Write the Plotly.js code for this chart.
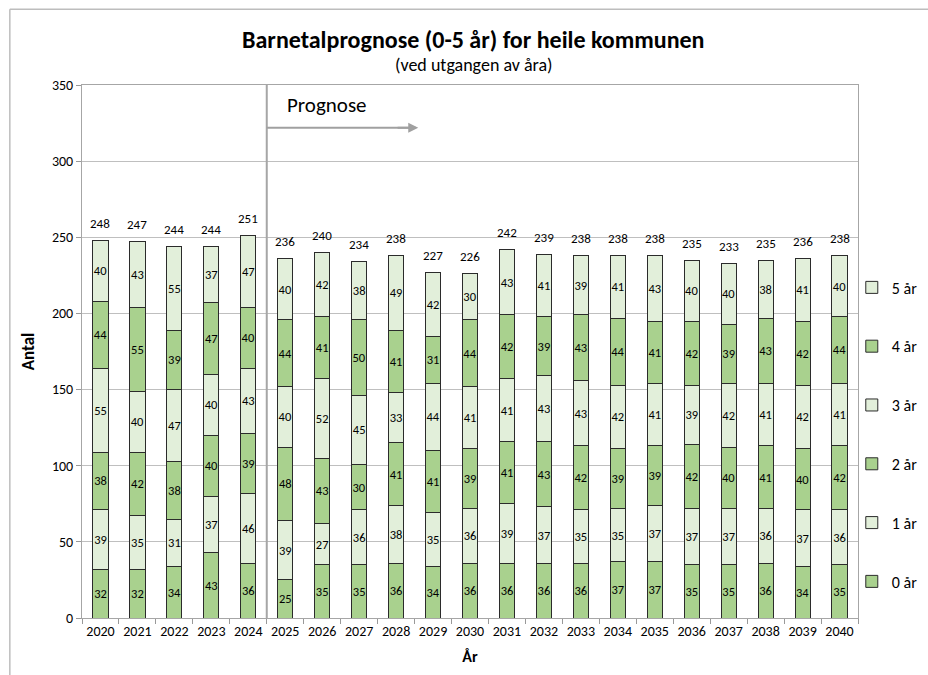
<!DOCTYPE html>
<html>
<head>
<meta charset="utf-8">
<script src="https://cdn.plot.ly/plotly-3.0.1.min.js"></script>
<style>
  html, body { margin: 0; padding: 0; background: #fff; }
  #graph { width: 928px; height: 675px; }
</style>
</head>
<body>
<div id="graph"></div>
<script>
// Data
const years = ['2020', '2021', '2022', '2023', '2024', '2025', '2026', '2027', '2028', '2029', '2030',
               '2031', '2032', '2033', '2034', '2035', '2036', '2037', '2038', '2039', '2040'];
const age0 = [32, 32, 34, 43, 36, 25, 35, 35, 36, 34, 36, 36, 36, 36, 37, 37, 35, 35, 36, 34, 35];
const age1 = [39, 35, 31, 37, 46, 39, 27, 36, 38, 35, 36, 39, 37, 35, 35, 37, 37, 37, 36, 37, 36];
const age2 = [38, 42, 38, 40, 39, 48, 43, 30, 41, 41, 39, 41, 43, 42, 39, 39, 42, 40, 41, 40, 42];
const age3 = [55, 40, 47, 40, 43, 40, 52, 45, 33, 44, 41, 41, 43, 43, 42, 41, 39, 42, 41, 42, 41];
const age4 = [44, 55, 39, 47, 40, 44, 41, 50, 41, 31, 44, 42, 39, 43, 44, 41, 42, 39, 43, 42, 44];
const age5 = [40, 43, 55, 37, 47, 40, 42, 38, 49, 42, 30, 43, 41, 39, 41, 43, 40, 40, 38, 41, 40];
const totals = [248, 247, 244, 244, 251, 236, 240, 234, 238, 227, 226, 242, 239, 238, 238, 238, 235, 233, 235, 236, 238];
const seriesNames = ['0 år', '1 år', '2 år', '3 år', '4 år', '5 år'];

const font = 'Carlito, Lato, "Liberation Sans", sans-serif';
const dark = '#a9d18e';
const light = '#e2efda';
const colors = [dark, light, dark, light, dark, light];

const series = [age0, age1, age2, age3, age4, age5];
const traces = series.map((vals, i) => ({
    type: 'bar',
    name: seriesNames[i],
    legendgroup: 'g' + i,
    legendrank: 10 - i, // 5 år on top
    x: years,
    y: vals,
    text: vals.map(String),
    textposition: 'inside',
    insidetextanchor: 'middle',
    textangle: 0,
    constraintext: 'none',
    textfont: { family: font, size: 12.5, color: '#000' },
    marker: { color: colors[i], line: { color: '#2b2b2b', width: 1 } },
    hoverinfo: 'skip'
}));

// totals above each bar (x given as category index, year strings look numeric)
const totalLabels = totals.map((t, i) => ({
    text: String(t), xref: 'x', yref: 'y', x: i, y: t,
    yanchor: 'middle', yshift: 17, showarrow: false,
    font: { family: font, size: 13, color: '#000' }
}));

const layout = {
    width: 928,
    height: 675,
    barmode: 'stack',
    bargap: 0.59,
    paper_bgcolor: '#fff',
    plot_bgcolor: '#fff',
    font: { family: font, color: '#000' },
    margin: { l: 82, r: 70, t: 85, b: 57, autoexpand: false },
    title: {
        text: 'Barnetalprognose (0-5 år) for heile kommunen',
        font: { family: font, size: 24, color: '#000', weight: 'bold' },
        xref: 'container', x: 0.51, xanchor: 'center',
        yref: 'container', y: 0.942, yanchor: 'middle'
    },
    xaxis: {
        type: 'category',
        range: [-0.5, years.length - 0.5],
        tickson: 'boundaries',
        ticks: 'outside',
        ticklen: 5,
        tickcolor: '#999',
        tickangle: 0,
        showline: true,
        mirror: true,
        linecolor: '#a6a6a6',
        linewidth: 1,
        showgrid: false,
        tickfont: { family: font, size: 14 },
        title: { text: 'År', font: { family: font, size: 16, weight: 'bold' }, standoff: 12 }
    },
    yaxis: {
        range: [0, 350],
        dtick: 50,
        ticks: 'outside',
        ticklen: 5,
        tickcolor: '#999',
        showline: true,
        mirror: true,
        linecolor: '#a6a6a6',
        linewidth: 1,
        gridcolor: '#bfbfbf',
        gridwidth: 1,
        zeroline: false,
        tickfont: { family: font, size: 14 },
        title: { text: 'Antal', font: { family: font, size: 17, weight: 'bold' }, standoff: 12 }
    },
    legend: {
        x: 0.992, xanchor: 'left', xref: 'paper',
        y: 0.652, yanchor: 'top',
        traceorder: 'grouped',
        tracegroupgap: 35,
        font: { family: font, size: 16 },
        itemwidth: 30,
        bgcolor: 'rgba(0,0,0,0)'
    },
    shapes: [
        // prognosis divider
        { type: 'line', xref: 'x', yref: 'y', x0: 4.5, x1: 4.5, y0: 0, y1: 350,
          line: { color: '#a6a6a6', width: 2 } },
        // arrow shaft
        { type: 'line', xref: 'x', yref: 'y', x0: 4.5, x1: 8.4, y0: 322, y1: 322,
          line: { color: '#a0a0a0', width: 2 } },
        // outer chart frame (top and left visible)
        { type: 'line', xref: 'paper', yref: 'paper', x0: -0.093, x1: 1.12, y0: 1.142, y1: 1.142,
          line: { color: '#bdbdbd', width: 1.5 } },
        { type: 'line', xref: 'paper', yref: 'paper', x0: -0.093, x1: -0.093, y0: -0.2, y1: 1.142,
          line: { color: '#bdbdbd', width: 1.5 } }
    ],
    annotations: [
        { text: '(ved utgangen av åra)', xref: 'paper', yref: 'paper', x: 0.505, y: 1.0375,
          yanchor: 'middle', showarrow: false, font: { family: font, size: 18, color: '#000' } },
        { text: 'Prognose', xref: 'x', yref: 'y', x: 5.0, y: 337, xanchor: 'left',
          showarrow: false, font: { family: font, size: 21, color: '#000' } },
        // arrow head
        { text: '', xref: 'x', yref: 'y', x: 8.6, y: 322, axref: 'x', ayref: 'y', ax: 8.0, ay: 322,
          showarrow: true, arrowhead: 2, arrowsize: 1, arrowwidth: 2, arrowcolor: '#a0a0a0' }
    ].concat(totalLabels)
};

Plotly.newPlot('graph', traces, layout, { displayModeBar: false });
</script>
</body>
</html>
